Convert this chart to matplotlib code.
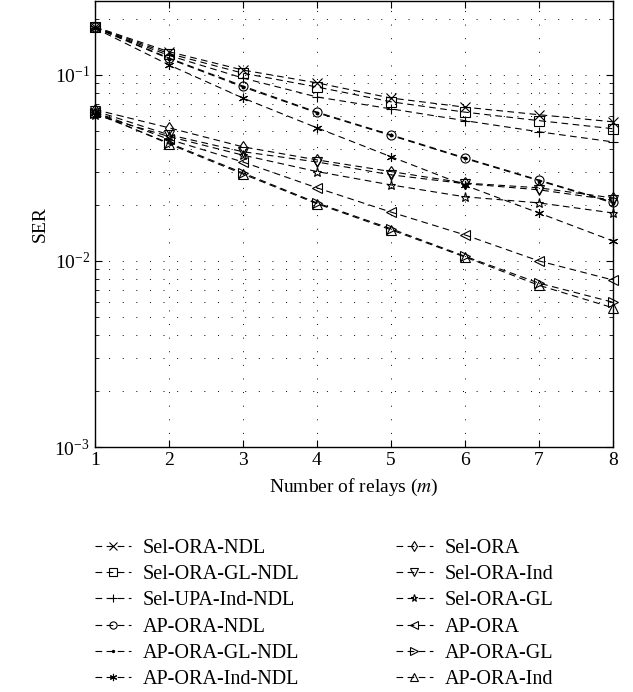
import matplotlib
matplotlib.use("Agg")
import matplotlib.pyplot as plt
from matplotlib.ticker import LogLocator, NullFormatter

plt.rcParams["font.family"] = ["Liberation Serif", "DejaVu Serif"]
plt.rcParams["mathtext.fontset"] = "stix"

relays = [1, 2, 3, 4, 5, 6, 7, 8]

# SER curves
sel_ora_ndl = [0.181, 0.133, 0.106, 0.0905, 0.075, 0.067, 0.061, 0.0559]
sel_ora_gl_ndl = [0.180, 0.130, 0.102, 0.086, 0.0716, 0.063, 0.0567, 0.0513]
sel_upa_ind_ndl = [0.179, 0.127, 0.096, 0.076, 0.0656, 0.0567, 0.0494, 0.0436]
ap_ora_ndl = [0.180, 0.123, 0.087, 0.063, 0.0476, 0.0358, 0.0272, 0.0207]
ap_ora_gl_ndl = [0.179, 0.122, 0.086, 0.0625, 0.0472, 0.0355, 0.0270, 0.0205]
ap_ora_ind_ndl = [0.178, 0.113, 0.075, 0.0519, 0.0363, 0.0255, 0.0181, 0.0128]

sel_ora = [0.065, 0.0519, 0.041, 0.0349, 0.0302, 0.0262, 0.0247, 0.0218]
sel_ora_ind = [0.064, 0.0476, 0.0386, 0.034, 0.029, 0.026, 0.0241, 0.0212]
sel_ora_gl = [0.061, 0.0466, 0.037, 0.0302, 0.0256, 0.0221, 0.0205, 0.0181]
ap_ora = [0.063, 0.045, 0.034, 0.0247, 0.0183, 0.0138, 0.0100, 0.0079]
ap_ora_gl = [0.062, 0.043, 0.0297, 0.0205, 0.0149, 0.0106, 0.0076, 0.0060]
ap_ora_ind = [0.063, 0.0425, 0.0293, 0.0203, 0.0147, 0.0105, 0.0074, 0.0056]

series = [
    (sel_ora_ndl, "x", "Sel-ORA-NDL"),
    (sel_ora_gl_ndl, "s", "Sel-ORA-GL-NDL"),
    (sel_upa_ind_ndl, "+", "Sel-UPA-Ind-NDL"),
    (ap_ora_ndl, "o", "AP-ORA-NDL"),
    (ap_ora_gl_ndl, ".", "AP-ORA-GL-NDL"),
    (ap_ora_ind_ndl, (6, 2, 0), "AP-ORA-Ind-NDL"),
    (sel_ora, "d", "Sel-ORA"),
    (sel_ora_ind, "v", "Sel-ORA-Ind"),
    (sel_ora_gl, "*", "Sel-ORA-GL"),
    (ap_ora, "<", "AP-ORA"),
    (ap_ora_gl, ">", "AP-ORA-GL"),
    (ap_ora_ind, "^", "AP-ORA-Ind"),
]

fig = plt.figure(figsize=(6.33, 6.92), dpi=100)
ax = fig.add_axes([0.150, 0.354, 0.818, 0.645])

for values, marker, label in series:
    ax.plot(
        relays,
        values,
        linestyle=(0, (6, 4)),
        linewidth=0.8,
        color="black",
        marker=marker,
        markersize=4 if marker == "." else 6.5,
        markerfacecolor="none" if marker != "." else "black",
        markeredgewidth=0.8,
        label=label,
        clip_on=False,
    )

ax.set_yscale("log")
ax.set_xlim(1, 8)
ax.set_ylim(1e-3, 0.25)
ax.set_xticks(relays)
ax.yaxis.set_major_locator(LogLocator(base=10))
ax.yaxis.set_minor_locator(LogLocator(base=10, subs=range(2, 10)))
ax.yaxis.set_minor_formatter(NullFormatter())
ax.grid(True, which="both", linestyle=(0, (1, 13)), color="black", linewidth=0.7)
ax.tick_params(which="both", direction="in", top=True, right=True, labelsize=14)
ax.tick_params(which="major", length=5)
ax.tick_params(which="minor", length=3)
for s in ax.spines.values():
    s.set_linewidth(1.0)

ax.set_xlabel("Number of relays ($m$)", fontsize=14, labelpad=6)
ax.set_ylabel("SER", fontsize=14)

fig.legend(
    loc="upper left",
    bbox_to_anchor=(0.121, 0.248),
    ncol=2,
    frameon=False,
    fontsize=14.5,
    handlelength=1.8,
    handletextpad=0.6,
    columnspacing=4.8,
    labelspacing=0.36,
    markerscale=0.8,
)

fig.savefig("out.png", dpi=100)
